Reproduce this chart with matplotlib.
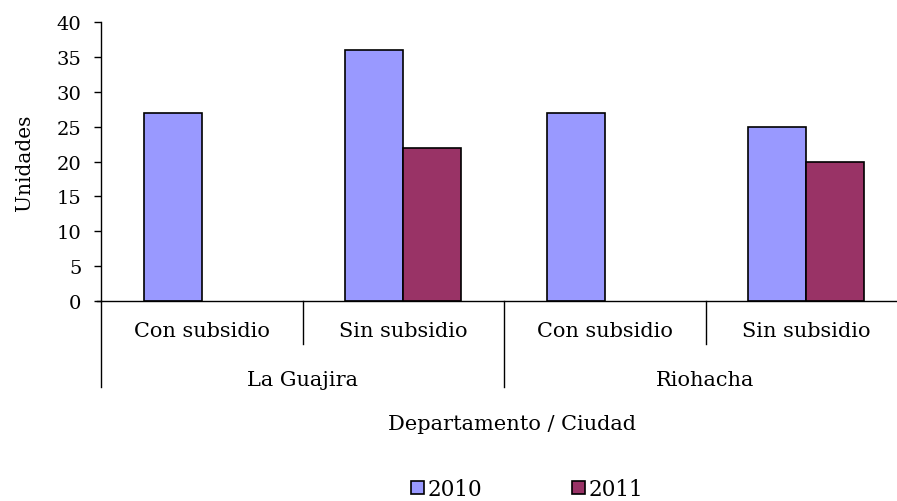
import matplotlib.pyplot as plt
import matplotlib.transforms as mtransforms
from matplotlib.patches import Patch
import numpy as np

# data
groups = ["La Guajira", "Riohacha"]
categories = ["Con subsidio", "Sin subsidio", "Con subsidio", "Sin subsidio"]
series = ["2010", "2011"]
values_2010 = [27, 36, 27, 25]
values_2011 = [0, 22, 0, 20]
colors = ['#9999FF', '#993366']

plt.rcParams['font.family'] = 'DejaVu Serif'

fig = plt.figure(figsize=(8.97, 5.02), dpi=100)
ax = fig.add_axes([101/897, 200/502, 796/897, 279/502])

x = np.arange(len(categories))
w = 0.288
ax.bar(x - w/2, values_2010, w, color=colors[0], edgecolor='black',
       linewidth=[1.2 if v else 0 for v in values_2010])
ax.bar(x + w/2, values_2011, w, color=colors[1], edgecolor='black',
       linewidth=[1.2 if v else 0 for v in values_2011])

ax.set_xlim(-0.5, 3.45)
ax.set_ylim(0, 40)
ax.set_yticks(range(0, 41, 5))
ax.tick_params(axis='y', labelsize=14, length=5, width=1, direction='out', pad=9)
ax.set_xticks([])
for s in ['top', 'right']:
    ax.spines[s].set_visible(False)
ax.spines['left'].set_linewidth(1)
ax.spines['bottom'].set_linewidth(1)
ax.spines['bottom'].set_bounds(-0.52, 3.45)

ax.set_ylabel("Unidades", fontsize=14.5, labelpad=16)

# multi-level category axis
trans = mtransforms.blended_transform_factory(ax.transData, ax.transAxes)
for i, c in enumerate(categories):
    ax.text(i, -0.1075, c, transform=trans, ha='center', va='center', fontsize=15)
for i in range(1, len(categories)):
    depth = -0.308 if i % 2 == 0 else -0.154
    ax.plot([i - 0.5, i - 0.5], [0, depth], transform=trans, color='black', lw=1, clip_on=False)
ax.plot([-0.5, -0.5], [0, -0.308], transform=trans, color='black', lw=1, clip_on=False)
for j, g in enumerate(groups):
    ax.text(2 * j + 0.5, -0.283, g, transform=trans, ha='center', va='center', fontsize=15)

fig.text(512/897, 1 - 425/502, "Departamento / Ciudad", ha='center', va='center', fontsize=15)

handles = [Patch(facecolor=c, edgecolor='black', linewidth=1.2, label=s) for c, s in zip(colors, series)]
fig.legend(handles=handles, loc='center', bbox_to_anchor=(527/897, 1 - 490/502), ncol=2, frameon=False,
           fontsize=15.5, handlelength=0.6, handleheight=0.6, handletextpad=0.15,
           columnspacing=4.2, borderpad=0)

fig.savefig("out.png", dpi=100)
